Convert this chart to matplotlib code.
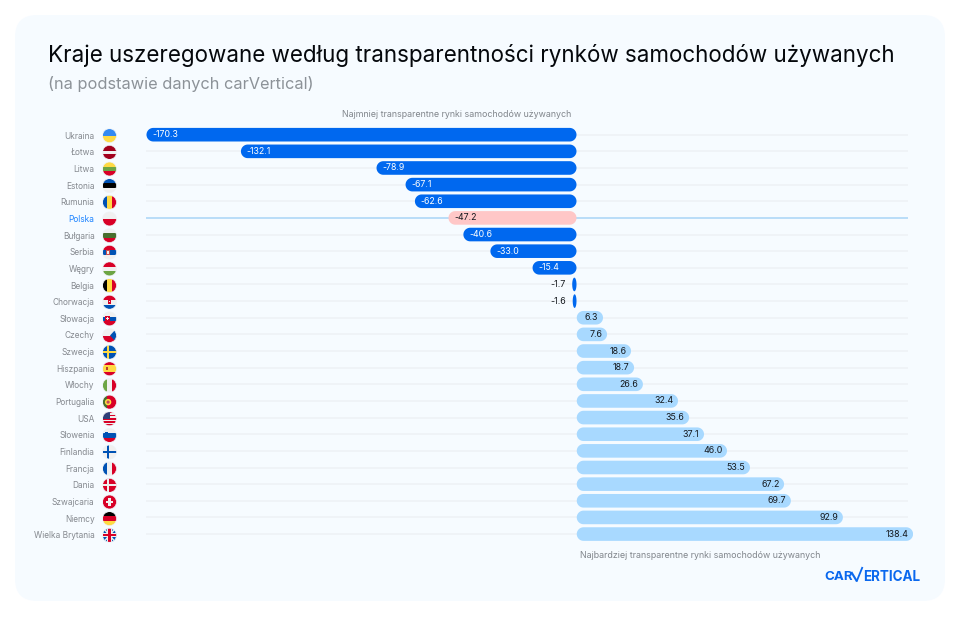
import matplotlib
matplotlib.use("Agg")
import matplotlib.pyplot as plt
import numpy as np
from matplotlib.patches import Circle, FancyBboxPatch, Polygon, Rectangle

plt.rcParams['font.family'] = ['Inter', 'DejaVu Sans']

countries = ["Ukraina", "Łotwa", "Litwa", "Estonia", "Rumunia", "Polska", "Bułgaria", "Serbia", "Węgry",
             "Belgia", "Chorwacja", "Słowacja", "Czechy", "Szwecja", "Hiszpania", "Włochy", "Portugalia",
             "USA", "Słowenia", "Finlandia", "Francja", "Dania", "Szwajcaria", "Niemcy", "Wielka Brytania"]
# printed numbers
values = [-170.3, -132.1, -78.9, -67.1, -62.6, -47.2, -40.6, -33.0, -15.4, -1.7, -1.6,
          6.3, 7.6, 18.6, 18.7, 26.6, 32.4, 35.6, 37.1, 46.0, 53.5, 67.2, 69.7, 92.9, 138.4]
# the drawn bars are not proportional to the printed numbers, so lengths are read off separately
bar_lengths = [-170.3, -132.9, -79.2, -67.7, -64.0, -50.7, -44.8, -34.1, -17.4, -1.7, -1.5,
               10.5, 12.1, 21.6, 22.8, 26.3, 40.2, 44.6, 50.5, 59.6, 68.7, 82.2, 84.9, 105.5, 133.3]

title = "Kraje uszeregowane według transparentności rynków samochodów używanych"
subtitle = "(na podstawie danych carVertical)"
note_top = "Najmniej transparentne rynki samochodów używanych"
note_bottom = "Najbardziej transparentne rynki samochodów używanych"

W, H = 960, 617
PX = 2.525        # pixels per value unit
ZERO = 576.5
ROW0, ROW_STEP = 134.7, 16.64
LABEL_ROW0, LABEL_STEP = 135.7, 16.65

RED, BLUE, YEL, GRN, DGRN, WHT, BLK = "#d80027", "#0052b4", "#ffda44", "#6da544", "#496e2d", "#f0f0f0", "#000000"
flag_stripes = {
    "Ukraina": ("h", ["#338af3", YEL]), "Łotwa": ("h", ["#a2001d", "#a2001d", WHT, "#a2001d", "#a2001d"]),
    "Litwa": ("h", [YEL, GRN, RED]), "Estonia": ("h", [BLUE, BLK, WHT]), "Rumunia": ("v", [BLUE, YEL, RED]),
    "Polska": ("h", [WHT, RED]), "Bułgaria": ("h", [WHT, DGRN, RED]), "Serbia": ("h", [RED, BLUE, WHT]),
    "Węgry": ("h", [RED, WHT, GRN]), "Belgia": ("v", [BLK, YEL, RED]), "Chorwacja": ("h", [RED, WHT, BLUE]),
    "Słowacja": ("h", [WHT, BLUE, RED]), "Czechy": ("h", [WHT, RED]), "Szwecja": ("h", [BLUE]),
    "Hiszpania": ("h", [RED, YEL, YEL, RED]), "Włochy": ("v", [GRN, WHT, RED]),
    "Portugalia": ("v", [DGRN, RED, RED]),
    "USA": ("h", [RED, WHT, RED, WHT, RED, WHT, RED, WHT, RED]), "Słowenia": ("h", [WHT, BLUE, RED]),
    "Finlandia": ("h", [WHT]), "Francja": ("v", [BLUE, WHT, RED]), "Dania": ("h", [RED]),
    "Szwajcaria": ("h", [RED]), "Niemcy": ("h", [BLK, RED, YEL]), "Wielka Brytania": ("h", ["#0052b4"]),
}


def draw_flag(ax, name, cx, cy, r=7.0):
    clip = Circle((cx, cy), r, transform=ax.transData, fc="none", ec="none")
    ax.add_patch(clip)
    arts = []
    kind, cols = flag_stripes[name]
    n = len(cols)
    for k, c in enumerate(cols):
        if kind == "h":
            arts.append(Rectangle((cx - r, cy - r + 2 * r * k / n), 2 * r, 2 * r / n + 0.1, fc=c, ec="none"))
        else:
            arts.append(Rectangle((cx - r + 2 * r * k / n, cy - r), 2 * r / n + 0.1, 2 * r, fc=c, ec="none"))

    def rect(x0, y0, w, h, c):
        arts.append(Rectangle((cx + x0, cy + y0), w, h, fc=c, ec="none"))

    if name == "Czechy":
        arts.append(Polygon([(cx + r, cy - r), (cx + r, cy + r), (cx + 0.5, cy)], fc=BLUE, ec="none"))
    elif name == "Szwecja":
        rect(-r, -1, 2 * r, 2, YEL)
        rect(-2.8, -r, 2, 2 * r, YEL)
    elif name == "Finlandia":
        rect(-r, -1.1, 2 * r, 2.2, BLUE)
        rect(-3, -r, 2.2, 2 * r, BLUE)
    elif name == "Dania":
        rect(-r, -0.9, 2 * r, 1.8, WHT)
        rect(-2.6, -r, 1.8, 2 * r, WHT)
    elif name == "Szwajcaria":
        rect(-3.6, -1.1, 7.2, 2.2, WHT)
        rect(-1.1, -3.6, 2.2, 7.2, WHT)
    elif name == "USA":
        rect(-r, -r, r, r + 0.2, "#2e3f78")
    elif name == "Wielka Brytania":
        arts.append(Polygon([(cx - r, cy - r), (cx - r + 2, cy - r), (cx + r, cy + r), (cx + r - 2, cy + r)], fc=WHT, ec="none"))
        arts.append(Polygon([(cx + r, cy - r), (cx + r - 2, cy - r), (cx - r, cy + r), (cx - r + 2, cy + r)], fc=WHT, ec="none"))
        rect(-r, -2.2, 2 * r, 4.4, WHT)
        rect(-2.2, -r, 4.4, 2 * r, WHT)
        rect(-r, -1.1, 2 * r, 2.2, RED)
        rect(-1.1, -r, 2.2, 2 * r, RED)
    elif name == "Serbia":
        rect(-3.2, -2.6, 3.6, 5, "#c94f4f")
        rect(-2.2, -1.4, 1.6, 3, WHT)
    elif name == "Chorwacja":
        rect(-1.7, -2.4, 3.4, 4.4, RED)
        rect(-0.6, -1.2, 1.2, 1.2, WHT)
    elif name == "Słowacja":
        rect(-5, -2.8, 5, 5.2, RED)
        rect(-3, -2, 1, 3.4, WHT)
        rect(-4, -1.2, 3, 1, WHT)
    elif name == "Hiszpania":
        rect(-4, -1.6, 2.8, 3.2, "#b8402a")
    elif name == "Portugalia":
        arts.append(Circle((cx - 1.4, cy), 3.2, fc=YEL, ec="none"))
        arts.append(Circle((cx - 1.4, cy), 1.6, fc="#c84a5a", ec="none"))
    elif name == "Słowenia":
        rect(-4.2, -3.6, 2.8, 3.2, BLUE)
    for a in arts:
        ax.add_patch(a)
        a.set_clip_path(clip)
    ax.add_patch(Circle((cx, cy), r, fc="none", ec="#eef2f5", lw=0.5))


def pill(ax, x0, x1, y, height_px, radius_px, color):
    # rounded bar outline with circular corners in pixel space
    rx = min(radius_px, (x1 - x0) * PX / 2) / PX
    ry = min(radius_px, height_px / 2) / ROW_STEP
    h = height_px / ROW_STEP / 2
    t = np.linspace(0, np.pi / 2, 12)
    xs = np.r_[x1 - rx + rx * np.cos(t), x0 + rx - rx * np.sin(t), x0 + rx - rx * np.cos(t), x1 - rx + rx * np.sin(t)]
    ys = np.r_[y + h - ry + ry * np.sin(t), y + h - ry + ry * np.cos(t), y - h + ry - ry * np.sin(t), y - h + ry - ry * np.cos(t)]
    ax.fill(xs, ys, color=color, lw=0, zorder=2)


fig = plt.figure(figsize=(W / 100, H / 100), dpi=100, facecolor="white")

# page layer, measured in pixels
bg = fig.add_axes([0, 0, 1, 1])
bg.set_xlim(0, W)
bg.set_ylim(H, 0)
bg.axis("off")
bg.add_patch(FancyBboxPatch((15 + 22, 15 + 22), 930 - 44, 586 - 44, boxstyle="round,pad=22,rounding_size=22",
                            fc="#f6fbff", ec="none"))

bg.text(48, 55.5, title, fontsize=16.15, color="#05080c", va="center", ha="left")
bg.text(48, 84.5, subtitle, fontsize=11.75, color="#8c9298", va="center", ha="left")
bg.text(571, 114.5, note_top, fontsize=6.4, color="#81868c", va="center", ha="right")
bg.text(580, 555.5, note_bottom, fontsize=6.4, color="#81868c", va="center", ha="left")

for i, name in enumerate(countries):
    y = LABEL_ROW0 + LABEL_STEP * i
    col = "#1a82ff" if name == "Polska" else "#85898f"
    bg.text(94.5, y + 0.5, name, fontsize=6.0, color=col, va="center", ha="right")
    draw_flag(bg, name, 109.5, y)

# logo
LOGO = "#0a68ee"
bg.text(824, 577, "CAR", fontsize=9.6, fontweight="bold", color=LOGO, va="center", ha="left")
bg.plot([851.3, 857], [572, 581.5], color=LOGO, lw=1.5, solid_capstyle="butt")
bg.plot([856.6, 862.5], [581.5, 567], color=LOGO, lw=1.3, solid_capstyle="butt")
bg.text(863, 577, "ERTICAL", fontsize=9.7, fontweight="bold", color=LOGO, va="center", ha="left")

# bars layer
left, right, top, bottom = 146, 913, 126, 543
ax = fig.add_axes([left / W, 1 - bottom / H, (right - left) / W, (bottom - top) / H])
ax.set_xlim((left - ZERO) / PX, (right - ZERO) / PX)
ax.set_ylim((bottom - ROW0) / ROW_STEP, (top - ROW0) / ROW_STEP)
ax.axis("off")
ax.patch.set_alpha(0)

for i, (name, val, length) in enumerate(zip(countries, values, bar_lengths)):
    is_pl = name == "Polska"
    ax.plot([(145 - ZERO) / PX, (908 - ZERO) / PX], [i, i], color="#a9d4f7" if is_pl else "#edf1f5",
            lw=1.1, solid_capstyle="butt", zorder=1)
    col = "#ffc7c7" if is_pl else ("#0068ef" if val < 0 else "#a8d9ff")
    x0, x1 = (length, 0) if length < 0 else (0.1, length)
    pill(ax, x0, x1, i, 13.6, 6.8, col)
    txt = f"{val:.1f}"
    if val < 0 and abs(val) < 5:
        ax.annotate(txt, (length, i), xytext=(-4.5, 0), textcoords="offset points", ha="right", va="center",
                    fontsize=6.4, color="#14181d", zorder=3)
    elif val < 0:
        ax.annotate(txt, (length, i), xytext=(4.0, 0), textcoords="offset points", ha="left", va="center",
                    fontsize=6.3, color="#14181d" if is_pl else "white", zorder=3)
    else:
        ax.annotate(txt, (length, i), xytext=(-3.3, 0), textcoords="offset points", ha="right", va="center",
                    fontsize=6.4, color="#14181d", zorder=3)

fig.savefig("out.png", dpi=100)
